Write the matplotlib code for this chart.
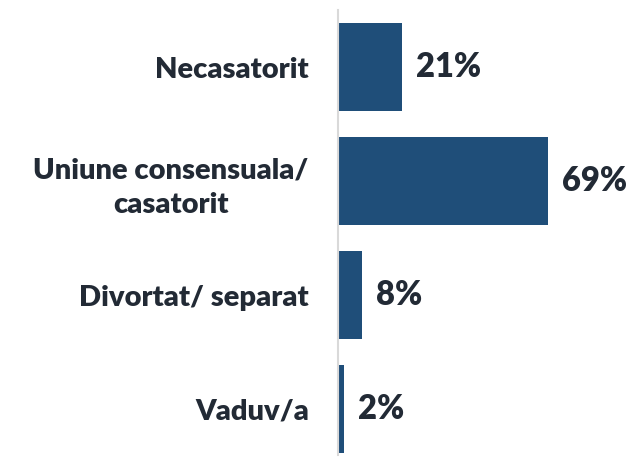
import matplotlib.pyplot as plt

categorii = ['Necasatorit', 'Uniune consensuala/\ncasatorit', 'Divortat/ separat', 'Vaduv/a']
procente = [21, 69, 8, 2]

culoare_bara = '#1f4e79'
culoare_text = '#222a35'

plt.rcParams['font.family'] = ['Lato', 'DejaVu Sans']

fig = plt.figure(figsize=(6.31, 4.59), dpi=100)
ax = fig.add_axes([338 / 631, 1 - 455 / 459, 1 - 338 / 631, 445 / 459])

pozitii = list(range(len(categorii)))
ax.barh(pozitii, procente, height=0.77, color=culoare_bara)

for y, v in zip(pozitii, procente):
    ax.annotate(f'{v}%', (v, y), xytext=(10, 0), textcoords='offset points',
                va='center', ha='left', fontsize=23.5, fontweight='heavy', color=culoare_text)

ax.set_xlim(0, 96.4)
ax.set_ylim(3.40, -0.5)
ax.set_yticks(pozitii)
ax.set_yticklabels(categorii, fontsize=21, fontweight='heavy', color=culoare_text,
                   ha='right', multialignment='center', linespacing=1.4)
ax.tick_params(axis='y', length=0, pad=21)
ax.set_xticks([])
for s in ['top', 'right', 'bottom']:
    ax.spines[s].set_visible(False)
ax.spines['left'].set_color('#d9d9d9')
ax.spines['left'].set_linewidth(1.5)

fig.savefig('out.png', dpi=100)
